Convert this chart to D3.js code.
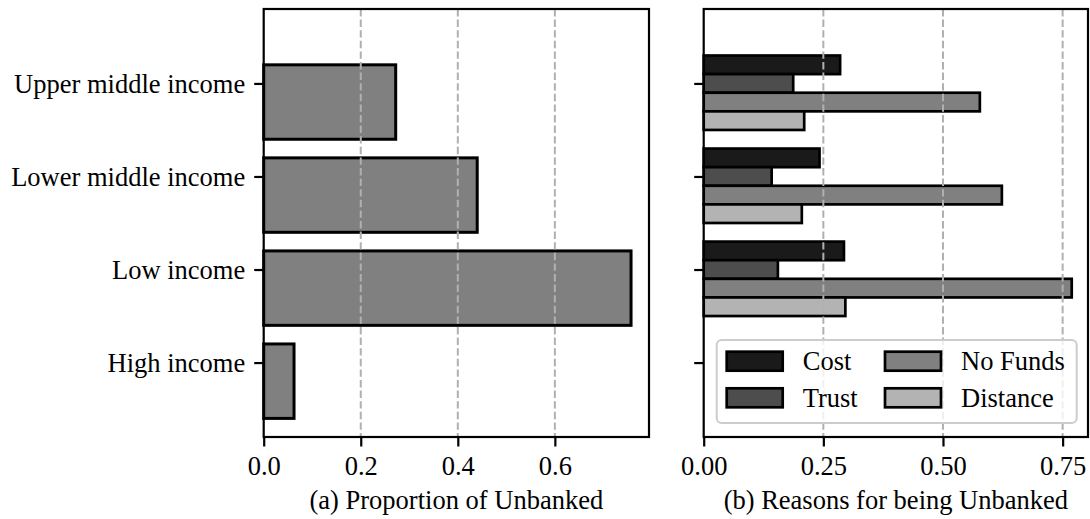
<!DOCTYPE html>
<html>
<head>
<meta charset="utf-8">
<script src="https://cdn.jsdelivr.net/npm/d3@7"></script>
<style>
	body { margin: 0; background: #fff; }
	svg { display: block; font-family: "Liberation Serif", "DejaVu Serif", serif; }
</style>
</head>
<body>
<svg id="chart" width="1090" height="519"></svg>
<script>
// categories listed bottom to top, the way the y axis counts them
const incomeGroups = ["High income", "Low income", "Lower middle income", "Upper middle income"];
const unbankedShare = [0.0625, 0.757, 0.44, 0.272];

const reasonNames = ["Cost", "Trust", "No Funds", "Distance"];
const costValues = [null, 0.293, 0.242, 0.285];
const trustValues = [null, 0.155, 0.142, 0.187];
const noFundsValues = [null, 0.769, 0.623, 0.577];
const distanceValues = [null, 0.296, 0.205, 0.210];

const leftTicks = [0, 0.2, 0.4, 0.6];
const rightTicks = [0, 0.25, 0.5, 0.75];
const leftTickLabels = ["0.0", "0.2", "0.4", "0.6"];
const rightTickLabels = ["0.00", "0.25", "0.50", "0.75"];

const reasonColors = ["#1a1a1a", "#4d4d4d", "#808080", "#b3b3b3"];
const fontSize = 26.5;

const svg = d3.select("#chart");

const plotTop = 9, plotBottom = 437;
const y = d3.scaleLinear().domain([-0.8, 3.8]).range([plotBottom, plotTop]);

const drawFrame = (g, x, ticks, tickLabels, showYLabels, title) => {
	const [x0, x1] = x.range();

	// dashed grid
	g.append("g").attr("class", "grid")
		.selectAll("line")
		.data(ticks.filter(t => t > 0))
		.join("line")
		.attr("x1", d => x(d)).attr("x2", d => x(d))
		.attr("y1", plotTop).attr("y2", plotBottom)
		.attr("stroke", "#b0b0b0")
		.attr("stroke-width", 2)
		.attr("stroke-dasharray", "7.4,3.2");

	const xAxis = g.append("g")
		.attr("transform", "translate(0," + plotBottom + ")")
		.call(d3.axisBottom(x).tickValues(ticks).tickFormat((d, i) => tickLabels[i]).tickSize(9.5).tickPadding(9));
	xAxis.select(".domain").remove();
	xAxis.selectAll("line").attr("stroke", "#000").attr("stroke-width", 2.2);
	xAxis.selectAll("text")
		.attr("font-size", fontSize)
		.attr("font-family", "Liberation Serif")
		.attr("fill", "#000")
		.attr("dy", "0.72em");

	const yAxis = g.append("g")
		.attr("transform", "translate(" + x0 + ",0)")
		.call(d3.axisLeft(y).tickValues(d3.range(incomeGroups.length))
			.tickFormat(i => showYLabels ? incomeGroups[i] : "").tickSize(9.5).tickPadding(9));
	yAxis.select(".domain").remove();
	yAxis.selectAll("line").attr("stroke", "#000").attr("stroke-width", 2.2);
	yAxis.selectAll("text")
		.attr("font-size", fontSize)
		.attr("font-family", "Liberation Serif")
		.attr("fill", "#000")
		.attr("dy", "0.33em");

	g.append("text")
		.attr("x", (x0 + x1) / 2)
		.attr("y", 509)
		.attr("text-anchor", "middle")
		.attr("font-size", fontSize)
		.text(title);
};

const drawSpines = (g, x) => {
	const [x0, x1] = x.range();
	g.append("rect")
		.attr("x", x0).attr("y", plotTop)
		.attr("width", x1 - x0).attr("height", plotBottom - plotTop)
		.attr("fill", "none")
		.attr("stroke", "#000")
		.attr("stroke-width", 2.2);
};

// (a) proportion of unbanked
const xLeft = d3.scaleLinear().domain([0, 0.794]).range([263.7, 649]);
const left = svg.append("g");

left.append("g").selectAll("rect")
	.data(unbankedShare)
	.join("rect")
	.attr("x", xLeft(0))
	.attr("y", (d, i) => y(i + 0.2))
	.attr("width", d => xLeft(d) - xLeft(0))
	.attr("height", (d, i) => y(i - 0.6) - y(i + 0.2))
	.attr("fill", "#808080")
	.attr("stroke", "#000")
	.attr("stroke-width", 3);

drawFrame(left, xLeft, leftTicks, leftTickLabels, true, "(a) Proportion of Unbanked");
drawSpines(left, xLeft);

// (b) reasons for being unbanked
const xRight = d3.scaleLinear().domain([0, 0.803]).range([703.7, 1088]);
const right = svg.append("g");
const reasonSeries = [costValues, trustValues, noFundsValues, distanceValues];

reasonSeries.forEach((values, k) => {
	right.append("g").attr("class", "series-" + k)
		.selectAll("rect")
		.data(values.map((v, i) => ({ v, i })).filter(d => d.v !== null))
		.join("rect")
		.attr("x", xRight(0))
		.attr("y", d => y(d.i + 0.3 - 0.2 * k))
		.attr("width", d => xRight(d.v) - xRight(0))
		.attr("height", d => y(d.i + 0.1 - 0.2 * k) - y(d.i + 0.3 - 0.2 * k))
		.attr("fill", reasonColors[k])
		.attr("stroke", "#000")
		.attr("stroke-width", 2.7);
});

drawFrame(right, xRight, rightTicks, rightTickLabels, false, "(b) Reasons for being Unbanked");

// legend
const legend = right.append("g").attr("transform", "translate(716.7,340)");
legend.append("rect")
	.attr("width", 360).attr("height", 83)
	.attr("rx", 5)
	.attr("fill", "#fff").attr("fill-opacity", 0.8)
	.attr("stroke", "#cccccc").attr("stroke-width", 2);

const items = legend.selectAll("g.item")
	.data(reasonNames)
	.join("g")
	.attr("class", "item")
	.attr("transform", (d, i) => "translate(" + (i < 2 ? 10 : 168.3) + "," + (i % 2 === 0 ? 11.7 : 48.3) + ")");
items.append("rect")
	.attr("width", 56).attr("height", 19)
	.attr("fill", (d, i) => reasonColors[i])
	.attr("stroke", "#000").attr("stroke-width", 2.7);
items.append("text")
	.attr("x", 76)
	.attr("y", 18.5)
	.attr("font-size", fontSize)
	.text(d => d);

drawSpines(right, xRight);
</script>
</body>
</html>
